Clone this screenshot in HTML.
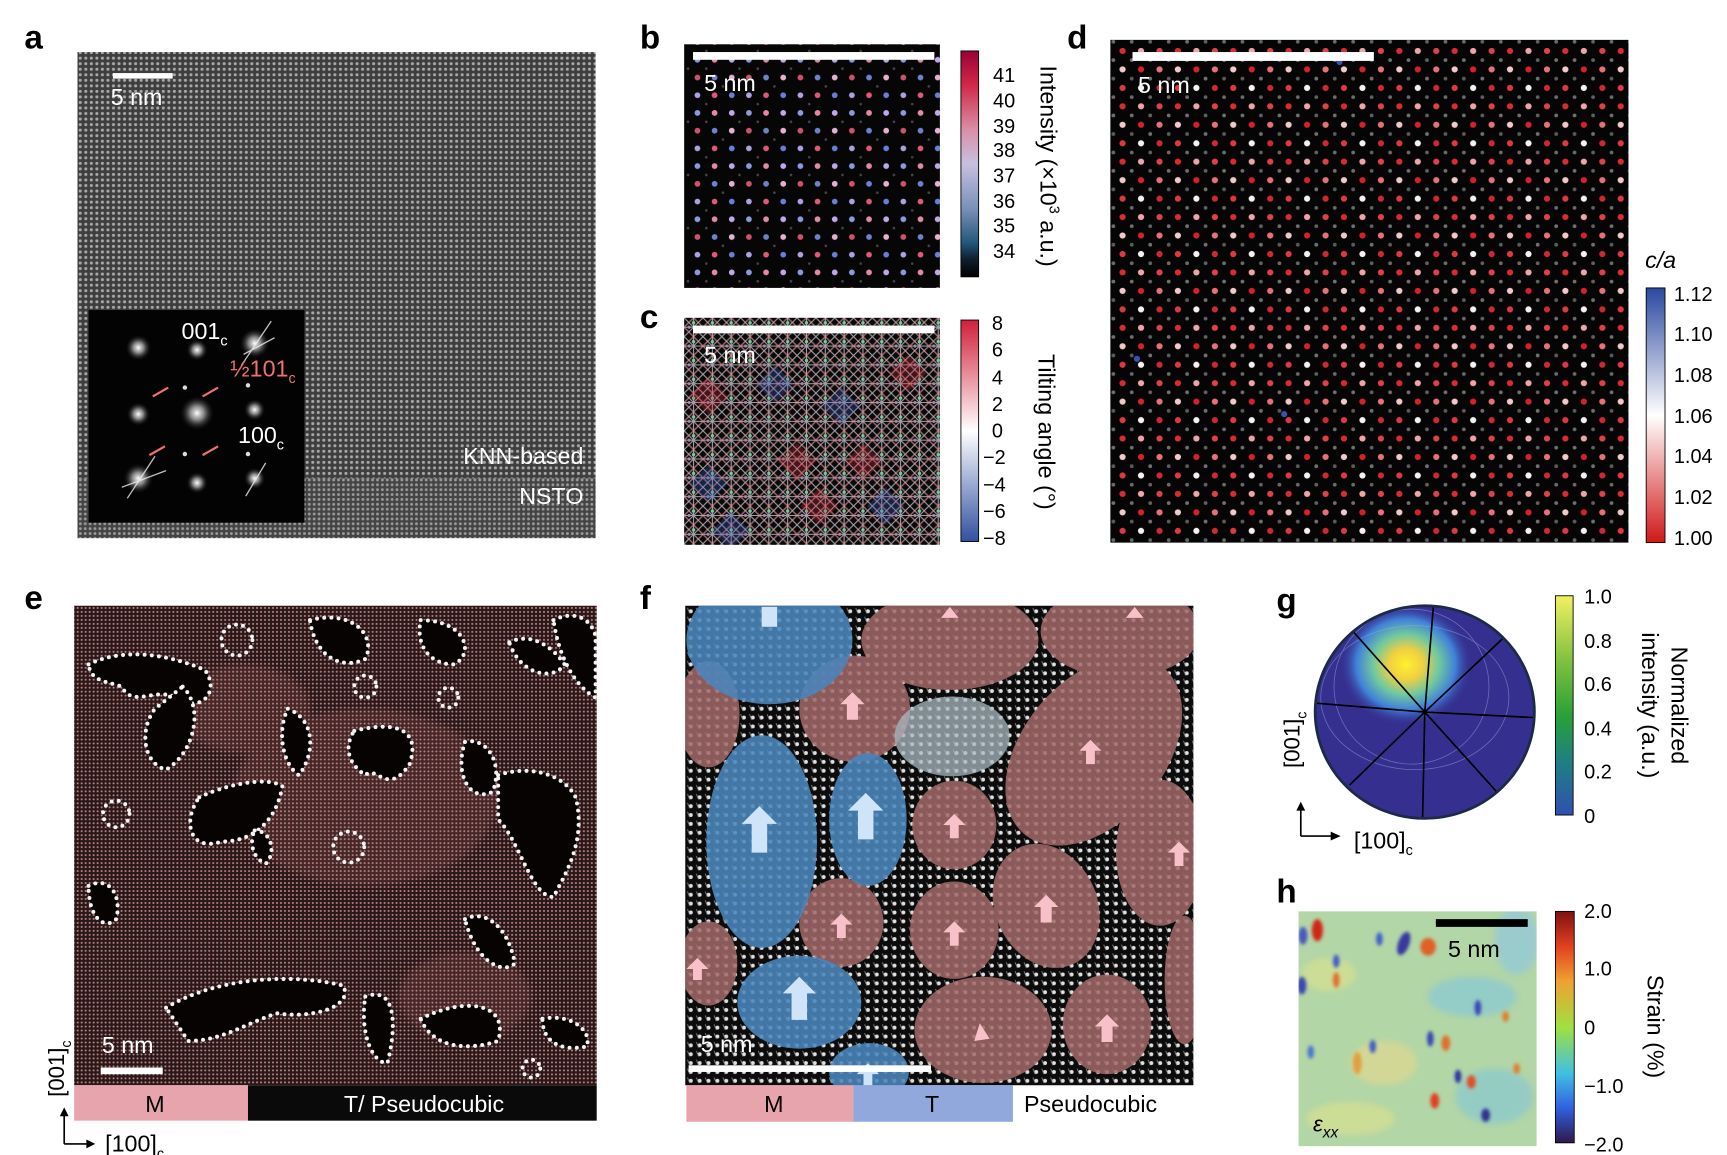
<!DOCTYPE html>
<html><head><meta charset="utf-8"><style>
html,body{margin:0;padding:0;background:#fff}
svg{display:block}
text{font-family:"Liberation Sans",sans-serif}
</style></head><body>
<svg width="1727" height="1155" viewBox="0 0 1560 1043" preserveAspectRatio="none" xmlns="http://www.w3.org/2000/svg">
<defs>
<pattern id="pa" width="5" height="5" patternUnits="userSpaceOnUse"><rect width="5" height="5" fill="#3e3e3e"/><circle cx="2.5" cy="2.5" r="1.4" fill="#a8a8a8"/></pattern>
<pattern id="pa2" width="4.4" height="4.4" patternUnits="userSpaceOnUse"><rect width="5" height="5" fill="#444"/><circle cx="2.2" cy="2.2" r="1.3" fill="#9a9a9a"/></pattern>
<pattern id="pb" x="626" y="50" width="46.5" height="48" patternUnits="userSpaceOnUse">
<rect width="47" height="48" fill="#060606"/>
<circle cx="4" cy="4" r="2.6" fill="#8a9ae0"/><circle cx="19.5" cy="4" r="2.6" fill="#e08aa8"/><circle cx="35" cy="4" r="2.6" fill="#c0a8e8"/>
<circle cx="4" cy="20" r="2.6" fill="#d05070"/><circle cx="19.5" cy="20" r="2.6" fill="#7080d0"/><circle cx="35" cy="20" r="2.6" fill="#e8b0d0"/>
<circle cx="4" cy="36" r="2.6" fill="#b0a0e0"/><circle cx="19.5" cy="36" r="2.6" fill="#e05878"/><circle cx="35" cy="36" r="2.6" fill="#6a7ed8"/>
<circle cx="12" cy="12" r="1.2" fill="#444"/><circle cx="27" cy="28" r="1.2" fill="#444"/><circle cx="42" cy="12" r="1.2" fill="#444"/><circle cx="12" cy="44" r="1.2" fill="#444"/>
</pattern>
<pattern id="pc" x="618" y="287" width="17" height="17" patternUnits="userSpaceOnUse">
<rect width="17" height="17" fill="#0a0a0a"/>
<path d="M0,0L17,17M17,0L0,17M8.5,0V17M0,8.5H17" stroke="#d8d0d8" stroke-width="1" opacity="0.75"/>
<path d="M8.5,0L17,8.5L8.5,17L0,8.5Z" fill="none" stroke="#e8a0a8" stroke-width="1.4" opacity="0.6"/>
<circle cx="8.5" cy="4.5" r="1.6" fill="#7c9"/><circle cx="4.5" cy="8.5" r="1.4" fill="#a8a"/>
</pattern>
<pattern id="pd" x="1010" y="42" width="50" height="50" patternUnits="userSpaceOnUse">
<rect width="50" height="50" fill="#050505"/>
<circle cx="4" cy="4" r="2.8" fill="#dc2a30"/><circle cx="20.7" cy="4" r="2.8" fill="#f0a4a8"/><circle cx="37.4" cy="4" r="2.8" fill="#e04048"/>
<circle cx="4" cy="20.7" r="2.8" fill="#f2c8c8"/><circle cx="20.7" cy="20.7" r="2.8" fill="#d82028"/><circle cx="37.4" cy="20.7" r="2.8" fill="#e87078"/>
<circle cx="4" cy="37.4" r="2.8" fill="#e03840"/><circle cx="20.7" cy="37.4" r="2.8" fill="#f8f0f0"/><circle cx="37.4" cy="37.4" r="2.8" fill="#d02830"/>
<circle cx="12.3" cy="12.3" r="1.7" fill="#707070"/><circle cx="29" cy="12.3" r="1.7" fill="#606060"/><circle cx="45.7" cy="12.3" r="1.7" fill="#707070"/>
<circle cx="12.3" cy="29" r="1.7" fill="#5a5a5a"/><circle cx="29" cy="29" r="1.7" fill="#707070"/><circle cx="45.7" cy="29" r="1.7" fill="#5a5a5a"/>
<circle cx="12.3" cy="45.7" r="1.7" fill="#6a6a6a"/><circle cx="29" cy="45.7" r="1.7" fill="#606060"/><circle cx="45.7" cy="45.7" r="1.7" fill="#6a6a6a"/>
</pattern>
<pattern id="pe" width="3.6" height="3.6" patternUnits="userSpaceOnUse"><rect width="4" height="4" fill="#2a1718"/><circle cx="1.8" cy="1.8" r="0.95" fill="#b88686"/></pattern>
<pattern id="pf" x="620" y="548" width="8" height="8" patternUnits="userSpaceOnUse"><rect width="8" height="8" fill="#0c0c0c"/><circle cx="4" cy="4" r="1.8" fill="#e0e0e0"/><path d="M1,1L3,6" stroke="#888" stroke-width="0.8"/></pattern>
<linearGradient id="gb" x1="0" y1="0" x2="0" y2="1"><stop offset="0" stop-color="#9a0038"/><stop offset="0.15" stop-color="#d02848"/><stop offset="0.35" stop-color="#d890a8"/><stop offset="0.5" stop-color="#c8c0e0"/><stop offset="0.7" stop-color="#7890b8"/><stop offset="0.85" stop-color="#205878"/><stop offset="0.92" stop-color="#102030"/><stop offset="1" stop-color="#000"/></linearGradient>
<linearGradient id="gc" x1="0" y1="0" x2="0" y2="1"><stop offset="0" stop-color="#d0203a"/><stop offset="0.5" stop-color="#ffffff"/><stop offset="1" stop-color="#3050a0"/></linearGradient>
<linearGradient id="gd" x1="0" y1="0" x2="0" y2="1"><stop offset="0" stop-color="#2c48a0"/><stop offset="0.5" stop-color="#ffffff"/><stop offset="1" stop-color="#d01818"/></linearGradient>
<linearGradient id="gg" x1="0" y1="0" x2="0" y2="1"><stop offset="0" stop-color="#f0f060"/><stop offset="0.3" stop-color="#80c040"/><stop offset="0.55" stop-color="#28a038"/><stop offset="0.75" stop-color="#208080"/><stop offset="1" stop-color="#3050b0"/></linearGradient>
<linearGradient id="gh" x1="0" y1="0" x2="0" y2="1"><stop offset="0" stop-color="#801010"/><stop offset="0.15" stop-color="#e04020"/><stop offset="0.3" stop-color="#f0a030"/><stop offset="0.5" stop-color="#a0e040"/><stop offset="0.7" stop-color="#40c0e0"/><stop offset="0.85" stop-color="#3060e0"/><stop offset="1" stop-color="#301848"/></linearGradient>
<radialGradient id="hot" cx="0.5" cy="0.5" r="0.5"><stop offset="0" stop-color="#fff030"/><stop offset="0.25" stop-color="#f0d040"/><stop offset="0.5" stop-color="#70c8a0"/><stop offset="0.75" stop-color="#4080d8"/><stop offset="1" stop-color="#383090" stop-opacity="0"/></radialGradient>
<filter id="bl"><feGaussianBlur stdDeviation="3"/></filter>
<filter id="bl2"><feGaussianBlur stdDeviation="1.5"/></filter>
<radialGradient id="star" cx="0.5" cy="0.5" r="0.5"><stop offset="0" stop-color="#fff"/><stop offset="0.4" stop-color="#ddd" stop-opacity="0.6"/><stop offset="1" stop-color="#000" stop-opacity="0"/></radialGradient>
<clipPath id="cg"><ellipse cx="1287" cy="643" rx="99" ry="96"/></clipPath>
<clipPath id="cf"><rect x="619" y="547" width="459" height="433"/></clipPath>
<clipPath id="cc"><rect x="618" y="287" width="231" height="205"/></clipPath>
<clipPath id="ch"><rect x="1173" y="823" width="215" height="212"/></clipPath>
</defs>

<g font-weight="bold" font-size="30" fill="#000">
<text x="22" y="44">a</text><text x="578" y="44">b</text><text x="578" y="296">c</text><text x="964" y="44">d</text>
<text x="22" y="550">e</text><text x="578" y="550">f</text><text x="1153" y="552">g</text><text x="1153" y="815">h</text>
</g>

<!-- a -->
<rect x="70" y="47" width="468" height="385" fill="url(#pa)"/>
<rect x="70" y="432" width="468" height="54" fill="url(#pa2)"/>
<rect x="102" y="66" width="54" height="5" fill="#fff"/>
<text x="100" y="95" font-size="21" fill="#fff">5 nm</text>
<text x="527" y="419" font-size="21" fill="#fff" text-anchor="end">KNN-based</text>
<text x="527" y="455" font-size="21" fill="#fff" text-anchor="end">NSTO</text>
<rect x="80" y="280" width="195" height="192" fill="#030303"/>
<g fill="url(#star)">
<circle cx="125" cy="314" r="12"/><circle cx="178" cy="316" r="10"/><circle cx="230" cy="310" r="14"/>
<circle cx="125" cy="374" r="11"/><circle cx="178" cy="373" r="16"/><circle cx="230" cy="370" r="10"/>
<circle cx="125" cy="432" r="14"/><circle cx="178" cy="436" r="10"/><circle cx="230" cy="432" r="10"/>
</g>
<g stroke="#eee" stroke-width="1.2" opacity="0.8">
<path d="M218,330L245,290M115,450L140,412M110,440L150,425M220,320L248,305M222,448L240,418"/>
</g>
<g fill="#ddd"><circle cx="167" cy="350" r="2"/><circle cx="224" cy="348" r="2"/><circle cx="167" cy="410" r="2"/><circle cx="224" cy="410" r="2"/></g>
<g stroke="#f07070" stroke-width="2"><path d="M138,358L152,350M183,358L197,350M135,411L149,403M183,411L197,403"/></g>
<text x="164" y="306" font-size="21" fill="#fff">001<tspan font-size="13" dy="6">c</tspan></text>
<text x="208" y="340" font-size="21" fill="#f07070">½101<tspan font-size="13" dy="6">c</tspan></text>
<text x="215" y="400" font-size="21" fill="#fff">100<tspan font-size="13" dy="6">c</tspan></text>

<!-- b -->
<rect x="618" y="40" width="231" height="220" fill="url(#pb)"/>
<rect x="626" y="47" width="218" height="7" fill="#fff"/>
<text x="636" y="82" font-size="21" fill="#fff">5 nm</text>
<rect x="868" y="46" width="16" height="204" fill="url(#gb)" stroke="#000" stroke-width="0.8"/>
<g font-size="18" fill="#000">
<text x="897" y="74">41</text><text x="897" y="97">40</text><text x="897" y="120">39</text><text x="897" y="142">38</text><text x="897" y="165">37</text><text x="897" y="188">36</text><text x="897" y="210">35</text><text x="897" y="233">34</text>
</g>
<text transform="translate(940,150) rotate(90)" font-size="21" text-anchor="middle">Intensity (×10<tspan font-size="13" dy="-8">3</tspan><tspan dy="8"> a.u.)</tspan></text>

<!-- c -->
<rect x="618" y="287" width="231" height="205" fill="url(#pc)"/>
<g opacity="0.3" clip-path="url(#cc)">
<path d="M700,330l17,17l-17,17l-17-17z M760,350l17,17l-17,17l-17-17z M640,420l17,17l-17,17l-17-17z M800,440l17,17l-17,17l-17-17z M660,462l17,17l-17,17l-17-17z" fill="#4060c0"/>
<path d="M820,320l17,17l-17,17l-17-17z M720,400l17,17l-17,17l-17-17z M780,400l17,17l-17,17l-17-17z M640,340l17,17l-17,17l-17-17z M740,440l17,17l-17,17l-17-17z" fill="#d03040"/>
</g>
<rect x="626" y="294" width="218" height="7" fill="#fff"/>
<text x="636" y="328" font-size="21" fill="#fff">5 nm</text>
<rect x="868" y="289" width="16" height="200" fill="url(#gc)" stroke="#000" stroke-width="0.8"/>
<g font-size="18" fill="#000">
<text x="896" y="298">8</text><text x="896" y="322">6</text><text x="896" y="347">4</text><text x="896" y="371">2</text><text x="896" y="395">0</text>
<text x="888" y="419">−2</text><text x="888" y="444">−4</text><text x="888" y="468">−6</text><text x="888" y="492">−8</text>
</g>
<text transform="translate(938,390) rotate(90)" font-size="21" text-anchor="middle">Tilting angle (°)</text>

<!-- d -->
<rect x="1003" y="36" width="468" height="454" fill="url(#pd)"/>
<g fill="#3a50b0"><circle cx="1027" cy="324" r="2.8"/><circle cx="1160" cy="374" r="2.8"/><circle cx="1210" cy="56" r="2.8"/></g>
<rect x="1023" y="47" width="218" height="8" fill="#fff"/>
<text x="1028" y="84" font-size="21" fill="#fff">5 nm</text>
<text x="1486" y="242" font-size="21" font-style="italic">c/a</text>
<rect x="1487" y="260" width="17" height="230" fill="url(#gd)" stroke="#000" stroke-width="0.8"/>
<g font-size="18" fill="#000">
<text x="1512" y="272">1.12</text><text x="1512" y="308">1.10</text><text x="1512" y="345">1.08</text><text x="1512" y="382">1.06</text><text x="1512" y="418">1.04</text><text x="1512" y="455">1.02</text><text x="1512" y="492">1.00</text>
</g>

<!-- e -->
<rect x="67" y="547" width="472" height="433" fill="url(#pe)"/>
<g fill="#c07070" opacity="0.18" filter="url(#bl)"><ellipse cx="330" cy="720" rx="120" ry="80"/><ellipse cx="220" cy="640" rx="60" ry="40"/><ellipse cx="420" cy="900" rx="60" ry="40"/></g>
<g fill="#070303" stroke="#f4f4f4" stroke-width="3.6" stroke-dasharray="0 6.5" stroke-linecap="round">
<path d="M80,600 C110,585 150,590 185,605 C200,625 180,645 160,630 C140,620 120,640 110,620 C95,615 82,615 80,600Z"/>
<path d="M165,620 C185,640 175,680 150,695 C130,690 125,660 140,640Z"/>
<path d="M280,560 C320,550 340,575 330,595 C310,605 285,595 280,560Z"/>
<path d="M380,560 C420,560 430,590 410,600 C390,600 375,585 380,560Z"/>
<path d="M260,640 C285,650 285,680 270,700 C255,690 250,660 260,640Z"/>
<path d="M320,660 C360,650 380,660 370,690 C350,720 340,690 330,700 C315,690 310,675 320,660Z"/>
<path d="M420,670 C440,665 455,690 445,715 C425,725 410,700 420,670Z"/>
<path d="M180,720 C200,710 240,700 255,710 C250,740 230,760 200,760 C170,770 165,740 180,720Z"/>
<path d="M230,750 C245,750 250,770 240,780 C228,775 225,760 230,750Z"/>
<path d="M450,700 C480,690 510,700 520,720 C530,760 510,790 500,810 C480,810 470,760 450,740Z"/>
<path d="M420,830 C440,820 460,840 465,870 C455,880 430,870 420,830Z"/>
<path d="M150,910 C200,880 270,880 310,890 C320,910 280,920 250,915 C220,925 200,940 170,940Z"/>
<path d="M330,900 C355,890 360,920 350,960 C335,960 325,930 330,900Z"/>
<path d="M380,920 C420,900 460,905 450,940 C420,950 390,945 380,920Z"/>
<path d="M490,920 C515,915 535,930 530,945 C505,950 490,940 490,920Z"/>
<path d="M460,580 C480,570 500,585 510,600 C500,615 470,610 460,580Z"/>
<path d="M500,560 C520,550 535,560 538,575 L538,630 C520,620 505,595 500,560Z"/>
<path d="M80,800 C100,790 110,810 105,830 C95,840 80,830 80,800Z"/>
</g>
<g fill="none" stroke="#f4f4f4" stroke-width="3.6" stroke-dasharray="0 6.5" stroke-linecap="round">
<circle cx="214" cy="578" r="14"/><circle cx="315" cy="765" r="14"/><circle cx="105" cy="735" r="12"/><circle cx="405" cy="630" r="9"/><circle cx="330" cy="620" r="10"/><circle cx="480" cy="965" r="8"/>
</g>
<rect x="91" y="964" width="56" height="6" fill="#fff"/>
<text x="92" y="951" font-size="21" fill="#fff">5 nm</text>
<rect x="67" y="980" width="157" height="32" fill="#e8a4ac"/>
<rect x="224" y="980" width="315" height="32" fill="#0a0a0a"/>
<text x="140" y="1004" font-size="21" text-anchor="middle">M</text>
<text x="383" y="1004" font-size="21" fill="#fff" text-anchor="middle">T/ Pseudocubic</text>
<text transform="translate(58,965) rotate(-90)" font-size="20" text-anchor="middle">[001]<tspan font-size="13" dy="6">c</tspan></text>
<path d="M58,1033 V1003 M58,1033 H82" stroke="#000" stroke-width="1.5" fill="none"/>
<path d="M54,1008 L58,1000 L62,1008Z M78,1029 L86,1033 L78,1037Z" fill="#000"/>
<text x="95" y="1040" font-size="21">[100]<tspan font-size="13" dy="6">c</tspan></text>

<!-- f -->
<rect x="619" y="547" width="459" height="433" fill="url(#pf)"/>
<g clip-path="url(#cf)">
<g fill="#a26868" opacity="0.85">
<ellipse cx="858" cy="578" rx="80" ry="45"/><ellipse cx="1012" cy="570" rx="72" ry="42"/>
<ellipse cx="772" cy="640" rx="50" ry="48"/><ellipse cx="640" cy="645" rx="28" ry="48"/>
<ellipse cx="988" cy="678" rx="64" ry="98" transform="rotate(40 988 678)"/>
<ellipse cx="862" cy="745" rx="38" ry="40"/><ellipse cx="945" cy="818" rx="46" ry="58" transform="rotate(-25 945 818)"/>
<ellipse cx="760" cy="833" rx="38" ry="40"/><ellipse cx="862" cy="840" rx="40" ry="44"/>
<ellipse cx="1048" cy="770" rx="40" ry="66"/><ellipse cx="640" cy="870" rx="26" ry="38"/>
<ellipse cx="888" cy="930" rx="62" ry="48"/><ellipse cx="1000" cy="925" rx="40" ry="45"/><ellipse cx="1070" cy="885" rx="18" ry="58"/>
</g>
<g fill="#4a86bc" opacity="0.88">
<ellipse cx="695" cy="578" rx="75" ry="58"/><ellipse cx="688" cy="760" rx="50" ry="96"/>
<ellipse cx="784" cy="740" rx="35" ry="60"/><ellipse cx="722" cy="905" rx="56" ry="42"/><ellipse cx="785" cy="968" rx="36" ry="26"/>
</g>
<ellipse cx="860" cy="665" rx="52" ry="36" fill="#a8b8c0" opacity="0.75"/>
<g fill="#cfe4f8">
<path d="M686,728 l16,16 h-9 v26 h-14 v-26 h-9z"/><path d="M782,716 l16,16 h-9 v26 h-14 v-26 h-9z"/><path d="M722,882 l15,15 h-8 v24 h-14 v-24 h-8z"/>
<rect x="688" y="548" width="14" height="18"/><path d="M784,960 l10,10 h-6 v12 h-8 v-12 h-6z"/>
</g>
<g fill="#f8c0c8">
<path d="M770,625 l11,11 h-6 v14 h-10 v-14 h-6z"/><path d="M862,735 l10,10 h-6 v12 h-8 v-12 h-6z"/><path d="M760,825 l10,10 h-6 v12 h-8 v-12 h-6z"/>
<path d="M862,832 l10,10 h-6 v12 h-8 v-12 h-6z"/><path d="M945,808 l11,11 h-6 v14 h-10 v-14 h-6z"/><path d="M985,668 l10,10 h-6 v12 h-8 v-12 h-6z"/>
<path d="M1000,916 l11,11 h-6 v14 h-10 v-14 h-6z"/><path d="M1065,760 l10,10 h-6 v12 h-8 v-12 h-6z"/><path d="M885,924 l-5,16 l14,-2z"/>
<path d="M630,865 l10,10 h-6 v10 h-8 v-10 h-6z"/><path d="M858,548 l8,10 h-16z"/><path d="M1025,548 l8,10 h-16z"/>
</g>
</g>
<rect x="622" y="962" width="219" height="6" fill="#fff"/>
<text x="633" y="950" font-size="21" fill="#fff">5 nm</text>
<rect x="620" y="980" width="151" height="33" fill="#e8a4ac"/>
<rect x="771" y="980" width="144" height="33" fill="#90a8dc"/>
<text x="699" y="1004" font-size="21" text-anchor="middle">M</text>
<text x="842" y="1004" font-size="21" text-anchor="middle">T</text>
<text x="925" y="1004" font-size="21">Pseudocubic</text>

<!-- g -->
<ellipse cx="1287" cy="643" rx="99" ry="96" fill="#35308f"/>
<g clip-path="url(#cg)">
<ellipse cx="1270" cy="600" rx="60" ry="55" fill="url(#hot)"/>
<g fill="none" stroke="#9ab0e0" stroke-width="0.7" opacity="0.5"><ellipse cx="1275" cy="620" rx="70" ry="70"/><ellipse cx="1278" cy="630" rx="85" ry="65"/></g>
<g stroke="#000" stroke-width="1.5">
<line x1="1287" y1="643" x2="1295" y2="545"/><line x1="1287" y1="643" x2="1357" y2="577"/><line x1="1287" y1="643" x2="1386" y2="648"/>
<line x1="1287" y1="643" x2="1352" y2="715"/><line x1="1287" y1="643" x2="1285" y2="740"/><line x1="1287" y1="643" x2="1219" y2="709"/>
<line x1="1287" y1="643" x2="1189" y2="635"/><line x1="1287" y1="643" x2="1222" y2="570"/>
</g>
</g>
<ellipse cx="1287" cy="643" rx="99" ry="96" fill="none" stroke="#1c2a48" stroke-width="2.5"/>
<rect x="1405" y="538" width="16" height="198" fill="url(#gg)" stroke="#000" stroke-width="0.8"/>
<g font-size="18"><text x="1431" y="545">1.0</text><text x="1431" y="585">0.8</text><text x="1431" y="624">0.6</text><text x="1431" y="664">0.4</text><text x="1431" y="703">0.2</text><text x="1431" y="743">0</text></g>
<text transform="translate(1510,637) rotate(90)" font-size="21" text-anchor="middle">Normalized</text>
<text transform="translate(1483,637) rotate(90)" font-size="21" text-anchor="middle">intensity (a.u.)</text>
<text transform="translate(1174,668) rotate(-90)" font-size="20" text-anchor="middle">[001]<tspan font-size="13" dy="6">c</tspan></text>
<path d="M1175,755 V727 M1175,755 H1205" stroke="#000" stroke-width="1.5" fill="none"/>
<path d="M1171,732 L1175,724 L1179,732Z M1202,751 L1211,755 L1202,759Z" fill="#000"/>
<text x="1223" y="766" font-size="21">[100]<tspan font-size="13" dy="6">c</tspan></text>

<!-- h -->
<rect x="1173" y="823" width="215" height="212" fill="#b2d6a6"/>
<g clip-path="url(#ch)">
<g filter="url(#bl)" opacity="0.7">
<ellipse cx="1200" cy="880" rx="25" ry="15" fill="#d8e090"/><ellipse cx="1330" cy="900" rx="40" ry="18" fill="#88c8d8"/>
<ellipse cx="1250" cy="960" rx="30" ry="20" fill="#e0d890"/><ellipse cx="1350" cy="990" rx="35" ry="25" fill="#88c8d0"/>
<ellipse cx="1220" cy="1010" rx="40" ry="15" fill="#d8e090"/><ellipse cx="1370" cy="850" rx="20" ry="30" fill="#90c8e0"/>
</g>
<g filter="url(#bl2)">
<ellipse cx="1190" cy="840" rx="5" ry="10" fill="#d02818"/><ellipse cx="1177" cy="845" rx="4" ry="8" fill="#4858c0"/>
<ellipse cx="1268" cy="852" rx="5" ry="11" fill="#3838a0" transform="rotate(20 1268 852)"/><ellipse cx="1290" cy="855" rx="7" ry="8" fill="#e06028"/>
<ellipse cx="1246" cy="848" rx="3" ry="6" fill="#4060c8"/><ellipse cx="1207" cy="868" rx="3" ry="6" fill="#4060c8"/>
<ellipse cx="1176" cy="890" rx="4" ry="8" fill="#3848b0"/><ellipse cx="1207" cy="885" rx="3" ry="7" fill="#e07030"/>
<ellipse cx="1335" cy="910" rx="3" ry="7" fill="#3848b0"/><ellipse cx="1360" cy="918" rx="3" ry="5" fill="#e08030"/>
<ellipse cx="1292" cy="938" rx="3" ry="7" fill="#3848b0"/><ellipse cx="1306" cy="942" rx="4" ry="7" fill="#e07030"/>
<ellipse cx="1240" cy="945" rx="3" ry="6" fill="#4060c8"/><ellipse cx="1226" cy="960" rx="4" ry="10" fill="#e0a040"/>
<ellipse cx="1317" cy="972" rx="3" ry="6" fill="#3030a0"/><ellipse cx="1329" cy="977" rx="4" ry="6" fill="#e05028"/>
<ellipse cx="1296" cy="994" rx="4" ry="7" fill="#e04020"/><ellipse cx="1342" cy="1007" rx="4" ry="6" fill="#303090"/>
<ellipse cx="1184" cy="950" rx="3" ry="6" fill="#4878d0"/><ellipse cx="1370" cy="965" rx="3" ry="5" fill="#e08030"/>
</g>
</g>
<rect x="1297" y="830" width="83" height="7" fill="#000"/>
<text x="1308" y="864" font-size="21">5 nm</text>
<text x="1186" y="1022" font-size="20" font-style="italic">ε<tspan font-size="14" dy="5">xx</tspan></text>
<rect x="1405" y="823" width="17" height="209" fill="url(#gh)" stroke="#000" stroke-width="0.8"/>
<g font-size="18"><text x="1431" y="829">2.0</text><text x="1431" y="881">1.0</text><text x="1431" y="934">0</text><text x="1431" y="987">−1.0</text><text x="1431" y="1040">−2.0</text></g>
<text transform="translate(1488,927) rotate(90)" font-size="21" text-anchor="middle">Strain (%)</text>
</svg>
</body></html>
